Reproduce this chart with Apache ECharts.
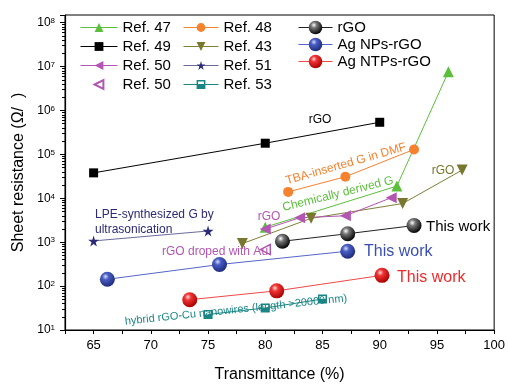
<!DOCTYPE html>
<html><head><meta charset="utf-8">
<script src="https://cdn.jsdelivr.net/npm/echarts@6/dist/echarts.min.js"></script>
<style>html,body{margin:0;padding:0;background:#fff;}#c{width:508px;height:388px;}</style>
</head><body><div id="c"></div>
<script>
// ---- data ----
const ref47X = [80, 91.5, 96];      const ref47Y = [2200, 19000, 7.6e6];
const ref48X = [82, 87, 93];        const ref48Y = [14000, 31000, 130000];
const ref49X = [65, 80, 90];        const ref49Y = [38000, 180000, 540000];
const ref43X = [78, 84, 92, 97.2];  const ref43Y = [930, 3500, 7600, 44000];
const ref50X = [80, 83, 87, 91];    const ref50Y = [2000, 3600, 4000, 10300];
const ref50bX = [80];               const ref50bY = [680];
const ref51X = [65, 75];            const ref51Y = [1070, 1800];
const ref53X = [75, 80, 85];        const ref53Y = [22.6, 31.8, 50.7];
const rgoX = [81.5, 87.2, 93];      const rgoY = [1050, 1560, 2400];
const agnpX = [66.2, 76, 87.2];     const agnpY = [143, 310, 624];
const agntpX = [73.4, 81, 90.2];    const agntpY = [49, 78, 176];
const xTicks = [65, 70, 75, 80, 85, 90, 95, 100];
const yDecades = [1, 2, 3, 4, 5, 6, 7, 8];

const pairs = (xs, ys) => xs.map((x, i) => [x, ys[i]]);
const FONT = '"Liberation Sans", Arial, sans-serif';
const sphere = (hi, mid, dark) => ({
  type: 'radial', x: 0.38, y: 0.32, r: 0.7,
  colorStops: [{offset: 0, color: hi}, {offset: 0.3, color: mid}, {offset: 1, color: dark}]
});
const STAR = 'path://M50,0 L61,35 L98,35 L68,57 L79,91 L50,70 L21,91 L32,57 L2,35 L39,35 Z';
const HALFSQ = 'path://M0,0L12,0L12,12L0,12ZM2,2L2,6L10,6L10,2Z';

const chart = echarts.init(document.getElementById('c'), null, {renderer: 'canvas'});

function lineSeries(name, xs, ys, color, symbol, size, extra) {
  return Object.assign({
    name, type: 'line', data: pairs(xs, ys), symbol, symbolSize: size,
    lineStyle: {color, width: 1}, itemStyle: {color}, animation: false
  }, extra || {});
}

const series = [
  lineSeries('Ref. 47', ref47X, ref47Y, '#5cbf3c', 'triangle', 11),
  lineSeries('Ref. 48', ref48X, ref48Y, '#f5822f', 'circle', 10),
  lineSeries('Ref. 49', ref49X, ref49Y, '#000000', 'rect', 9),
  lineSeries('Ref. 43', ref43X, ref43Y, '#77772e', 'triangle', 11, {symbolRotate: 180, lineStyle: {color: '#80803a', width: 1}}),
  lineSeries('Ref. 50', ref50X, ref50Y, '#b356b3', 'triangle', 11, {symbolRotate: 90}),
  lineSeries('Ref. 51', ref51X, ref51Y, '#2b2b78', STAR, 11, {lineStyle: {color: '#6a6a9a', width: 1}}),
  lineSeries('Ref. 50 ', ref50bX, ref50bY, '#b356b3', 'triangle', 10, {symbolRotate: 90,
    lineStyle: {color: '#b356b3', width: 1, opacity: 0},
    itemStyle: {color: '#ffffff', borderColor: '#b356b3', borderWidth: 1.5}}),
  lineSeries('Ref. 53', ref53X, ref53Y, '#1b8585', HALFSQ, 9),
  lineSeries('rGO', rgoX, rgoY, '#000000', 'circle', 15, {itemStyle: {color: sphere('#ffffff', '#777777', '#000000')}, lineStyle: {color: '#222', width: 1}, z: 5}),
  lineSeries('Ag NPs-rGO', agnpX, agnpY, '#3a4fb0', 'circle', 15, {itemStyle: {color: sphere('#d8defa', '#4a5ec4', '#1c2a7a')}, lineStyle: {color: '#5566c8', width: 1}, z: 5}),
  lineSeries('Ag NTPs-rGO', agntpX, agntpY, '#ee2a2a', 'circle', 15, {itemStyle: {color: sphere('#ffd8d8', '#f03434', '#a80000')}, lineStyle: {color: '#f04848', width: 1}, z: 5})
];

const legendBase = {orient: 'vertical', selectedMode: false, itemGap: 4, itemHeight: 11, padding: 0,
  lineStyle: {width: 1}, textStyle: {fontSize: 15, fontFamily: FONT, color: '#000'}};

const txt = (text, x, y, color, size, rotDeg, align) => ({
  type: 'text', x, y, rotation: (rotDeg || 0) * Math.PI / 180, z: 10,
  style: {text, fill: color, font: size + 'px ' + FONT, textAlign: align || 'center', textVerticalAlign: 'middle'}
});

chart.setOption({
  backgroundColor: '#fff',
  animation: false,
  grid: {left: 65, right: 9, top: 15, bottom: 55, show: true, borderColor: '#000', borderWidth: 1},
  xAxis: {
    type: 'value', min: 62.5, max: 100, interval: 2.5,
    name: 'Transmittance (%)', nameLocation: 'middle', nameGap: 37,
    nameTextStyle: {fontSize: 16, fontFamily: FONT, color: '#000'},
    axisLine: {show: true, lineStyle: {color: '#000', width: 1.2}},
    axisTick: {show: true, inside: false, length: 4, lineStyle: {color: '#000'}},
    axisLabel: {fontSize: 13, fontFamily: FONT, color: '#000', margin: 9,
      formatter: v => xTicks.indexOf(v) >= 0 ? String(v) : ''},
    splitLine: {show: false}
  },
  yAxis: {
    type: 'log', logBase: 10, min: 10, max: 1.5e8,
    name: 'Sheet resistance (Ω/  )', nameLocation: 'middle', nameGap: 37,
    nameTextStyle: {fontSize: 16, fontFamily: FONT, color: '#000'},
    axisLine: {show: true, lineStyle: {color: '#000', width: 1.2}},
    axisTick: {show: true, inside: false, length: 5, lineStyle: {color: '#000'}},
    minorTick: {show: true, splitNumber: 9, length: 3, lineStyle: {color: '#000'}},
    axisLabel: {fontSize: 12, fontFamily: FONT, color: '#000', margin: 10,
      formatter: v => {
        const e = Math.round(Math.log10(v));
        if (Math.abs(Math.log10(v) - e) > 1e-6 || yDecades.indexOf(e) < 0) return '';
        return '10{sup|' + e + '}';
      },
      rich: {sup: {fontSize: 8, fontFamily: FONT, color: '#000', verticalAlign: 'top', lineHeight: 8, padding: [0, 0, 6, 0]}}
    },
    splitLine: {show: false}
  },
  legend: [
    Object.assign({}, legendBase, {left: 80, top: 20, itemWidth: 37, data: ['Ref. 47', 'Ref. 49', 'Ref. 50', 'Ref. 50 ']}),
    Object.assign({}, legendBase, {left: 183, top: 20, itemWidth: 35, data: ['Ref. 48', 'Ref. 43', 'Ref. 51', 'Ref. 53']}),
    Object.assign({}, legendBase, {left: 298, top: 20, itemWidth: 34, itemHeight: 17, itemGap: 2, data: ['rGO', 'Ag NPs-rGO', 'Ag NTPs-rGO']})
  ],
  series,
  graphic: [
    txt('rGO', 320, 120, '#000', 12),
    txt('TBA-inserted G in DMF', 346, 164, '#f5822f', 12, 16),
    txt('Chemically derived G', 338, 194, '#5cbf3c', 12, 14),
    txt('rGO', 443, 171, '#77772e', 12),
    txt('rGO', 269, 217, '#b356b3', 12),
    txt('LPE-synthesized G by', 95, 215, '#2b2b78', 12, 0, 'left'),
    txt('ultrasonication', 95, 230, '#2b2b78', 12, 0, 'left'),
    txt('rGO droped with Au', 162, 252, '#b356b3', 12, 0, 'left'),
    txt('This work', 426, 227, '#000', 15, 0, 'left'),
    txt('This work', 364, 252, '#3a4fb0', 16, 0, 'left'),
    txt('This work', 397, 278, '#ee2a2a', 16, 0, 'left'),
    txt('hybrid rGO-Cu nanowires (length >20000 nm)', 236, 310, '#1b8585', 11, 6)
  ]
});
</script></body></html>
